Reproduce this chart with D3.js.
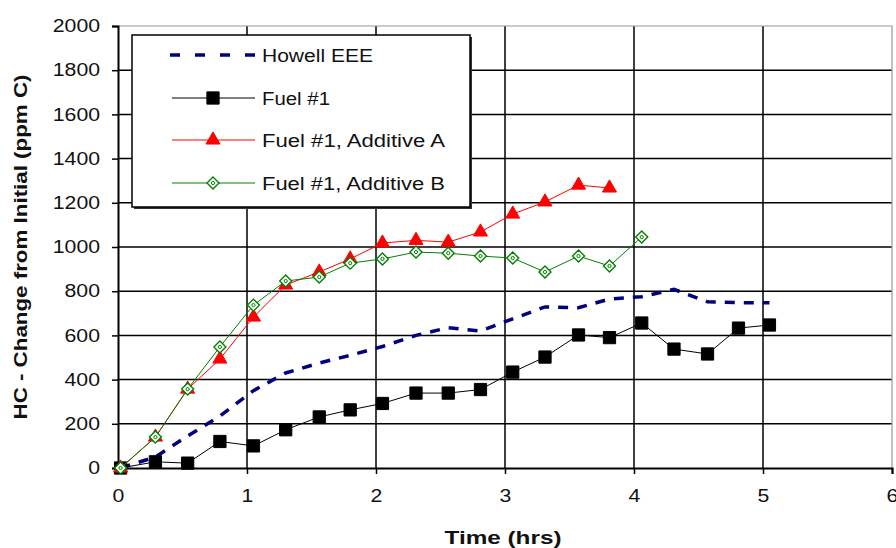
<!DOCTYPE html>
<html>
<head>
<meta charset="utf-8">
<script src="https://cdn.jsdelivr.net/npm/d3@7/dist/d3.min.js"></script>
<style>
  body { margin: 0; background: #fff; }
  svg text { font-family: "Liberation Sans", Arial, sans-serif; fill: #111; }
</style>
</head>
<body>
<svg id="chart" width="896" height="548"></svg>
<script>
// data ------------------------------------------------------------------------
const times = [0.02, 0.29, 0.54, 0.79, 1.05, 1.30, 1.56, 1.80, 2.05, 2.31, 2.56,
               2.81, 3.06, 3.31, 3.57, 3.81, 4.06, 4.31, 4.57, 4.81, 5.05];
const howellEEE = [0, 50, 145, 235, 350, 430, 475, 510, 550, 600, 635,
                   620, 675, 729, 725, 765, 775, 808, 752, 748, 748];
const fuel1 = [0, 28, 22, 120, 100, 173, 231, 263, 292, 339, 339,
               355, 434, 502, 602, 590, 656, 538, 516, 633, 647];
const additiveA = [0, 140, 357, 493, 683, 828, 887, 946, 1018, 1030, 1022,
                   1068, 1149, 1204, 1280, 1267];
const additiveB = [0, 140, 357, 548, 737, 846, 864, 927, 946, 977, 972,
                   959, 950, 887, 959, 914, 1045];
const xTicks = [0, 1, 2, 3, 4, 5, 6];
const yTicks = [0, 200, 400, 600, 800, 1000, 1200, 1400, 1600, 1800, 2000];
const seriesNames = ['Howell EEE', 'Fuel #1', 'Fuel #1, Additive A', 'Fuel #1, Additive B'];

let svg = d3.select('#chart');
let margin = {left: 118, right: 892, top: 26, bottom: 468};

let x = d3.scaleLinear().domain([0, 6]).range([margin.left, margin.right]);
let y = d3.scaleLinear().domain([0, 2000]).range([margin.bottom, margin.top]);

// the source picture is a little wide, so stretch text to match
function stretch(sel, k) {
    sel.each(function () {
        let w = this.getComputedTextLength();
        d3.select(this).attr('textLength', w * k).attr('lengthAdjust', 'spacingAndGlyphs');
    });
}

// grid -------------------------------------------------------------------------
svg.append('g').selectAll('line').data(yTicks.slice(1, -1)).enter().append('line')
    .attr('x1', margin.left).attr('x2', margin.right)
    .attr('y1', (d) => y(d)).attr('y2', (d) => y(d))
    .attr('stroke', '#000').attr('stroke-width', 1.5);
svg.append('g').selectAll('line').data(xTicks.slice(1, -1)).enter().append('line')
    .attr('y1', margin.top).attr('y2', margin.bottom)
    .attr('x1', (d) => x(d)).attr('x2', (d) => x(d))
    .attr('stroke', '#000').attr('stroke-width', 1.5);
// top / right frame
svg.append('path')
    .attr('d', `M${margin.left},${margin.top}H${margin.right}V${margin.bottom}`)
    .attr('fill', 'none').attr('stroke', '#999').attr('stroke-width', 1.2);

// axes -------------------------------------------------------------------------
let xAxis = svg.append('g').attr('transform', 'translate(0,' + margin.bottom + ')')
    .call(d3.axisBottom(x).tickValues(xTicks).tickFormat(d3.format('d'))
        .tickSizeOuter(0).tickSize(6).tickPadding(15));
let yAxis = svg.append('g').attr('transform', 'translate(' + margin.left + ',0)')
    .call(d3.axisLeft(y).tickValues(yTicks).tickFormat(d3.format('d'))
        .tickSizeOuter(0).tickSize(6).tickPadding(12));
[xAxis, yAxis].forEach((a) => {
    a.select('.domain').attr('stroke', '#000').attr('stroke-width', 2);
    a.selectAll('.tick line').attr('stroke', '#000').attr('stroke-width', 1.5);
    a.selectAll('.tick text').attr('font-size', 18).attr('fill', '#111')
        .attr('font-family', '"Liberation Sans", Arial, sans-serif');
    stretch(a.selectAll('.tick text'), 1.18);
});

let xTitle = svg.append('text').attr('x', 503).attr('y', 544).attr('text-anchor', 'middle')
    .attr('font-size', 19).attr('font-weight', 'bold').text('Time (hrs)');
xTitle.attr('textLength', 117).attr('lengthAdjust', 'spacingAndGlyphs');
let yTitle = svg.append('text').attr('transform', 'translate(27,247) rotate(-90)').attr('text-anchor', 'middle')
    .attr('font-size', 18).attr('font-weight', 'bold').text('HC - Change from Initial (ppm C)');
yTitle.attr('textLength', 345).attr('lengthAdjust', 'spacingAndGlyphs');

// lines ------------------------------------------------------------------------
let line = d3.line().x((d) => x(d[0])).y((d) => y(d[1]));
let zipT = (vals) => vals.map((v, i) => [times[i], v]);

let styles = [
    {vals: howellEEE, color: '#000080', width: 3.5, dash: '10,9', marker: null},
    {vals: fuel1, color: '#000', width: 1, dash: null, marker: 'square'},
    {vals: additiveA, color: '#ff0000', width: 1, dash: null, marker: 'triangle'},
    {vals: additiveB, color: '#008000', width: 1, dash: null, marker: 'diamond'}
];

function drawMarker(g, type, color) {
    if (type === 'square') {
        g.append('path').attr('d', d3.symbol(d3.symbolSquare, 150)())
            .attr('fill', '#000').attr('stroke', '#000');
    } else if (type === 'triangle') {
        g.append('path').attr('d', d3.symbol(d3.symbolTriangle, 85)())
            .attr('fill', color).attr('stroke', color);
    } else if (type === 'diamond') {
        g.append('path').attr('d', 'M0,-6L6,0L0,6L-6,0Z')
            .attr('fill', '#fff').attr('stroke', color).attr('stroke-width', 1.4);
        g.append('circle').attr('r', 1.6).attr('fill', 'none').attr('stroke', color).attr('stroke-width', 1);
    }
}

styles.forEach((s) => {
    let data = zipT(s.vals);
    svg.append('path').datum(data)
        .attr('fill', 'none').attr('stroke', s.color).attr('stroke-width', s.width)
        .attr('stroke-dasharray', s.dash).attr('d', line);
    if (s.marker) {
        data.forEach((d) => {
            let g = svg.append('g').attr('transform', `translate(${x(d[0])},${y(d[1])})`);
            drawMarker(g, s.marker, s.color);
        });
    }
});

// legend -----------------------------------------------------------------------
let lg = svg.append('g');
lg.append('rect').attr('x', 134).attr('y', 37).attr('width', 338).attr('height', 172).attr('fill', '#333');
lg.append('rect').attr('x', 132).attr('y', 35).attr('width', 338).attr('height', 172)
    .attr('fill', '#fff').attr('stroke', '#000').attr('stroke-width', 1.5);
let rowY = [55, 98, 140, 183];
let legendLen = [111, 68, 183, 183];
styles.forEach((s, i) => {
    let g = lg.append('g').attr('transform', 'translate(0,' + rowY[i] + ')');
    g.append('line').attr('x1', s.dash ? 170 : 172).attr('x2', 255)
        .attr('stroke', s.color).attr('stroke-width', s.dash ? 3.5 : 1.2).attr('stroke-dasharray', s.dash ? '10,15' : null);
    if (s.marker) {
        let m = g.append('g').attr('transform', 'translate(213,0)');
        drawMarker(m, s.marker, s.color);
    }
    g.append('text').attr('x', 262).attr('y', 7).attr('font-size', 18).text(seriesNames[i])
        .attr('textLength', legendLen[i]).attr('lengthAdjust', 'spacingAndGlyphs');
});
</script>
</body>
</html>
